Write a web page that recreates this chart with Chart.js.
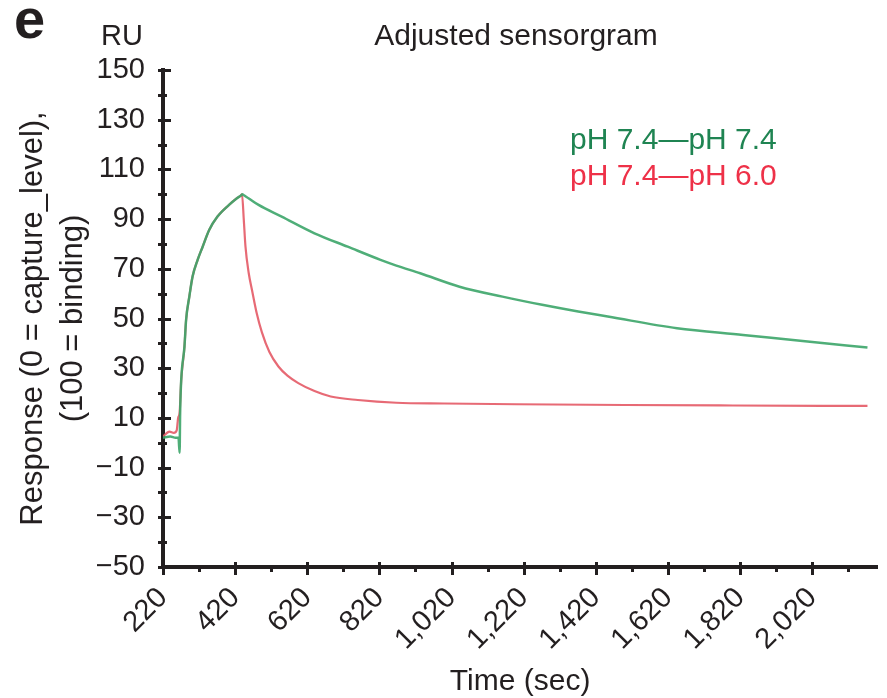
<!DOCTYPE html>
<html>
<head>
<meta charset="utf-8">
<script src="https://cdn.jsdelivr.net/npm/chart.js@4.4.1/dist/chart.umd.min.js"></script>
<style>
html,body{margin:0;padding:0;background:#fff;}
#wrap{width:887px;height:698px;position:relative;}
canvas{display:block;}
</style>
</head>
<body>
<div id="wrap"><canvas id="c" width="887" height="698"></canvas></div>
<script>
// ---------- text ----------
const panelLetter = 'e';
const unitLabel = 'RU';
const chartTitle = 'Adjusted sensorgram';
const xAxisTitle = 'Time (sec)';
const yAxisTitle = ['Response (0 = capture_level),', '(100 = binding)'];
const seriesNames = ['pH 7.4\u2014pH 7.4', 'pH 7.4\u2014pH 6.0'];

// ---------- ticks ----------
const xTickValues = [220, 320, 420, 520, 620, 720, 820, 920, 1020, 1120, 1220, 1320, 1420, 1520, 1620, 1720, 1820, 1920, 2020, 2120];
const xLabeledTicks = [220, 420, 620, 820, 1020, 1220, 1420, 1620, 1820, 2020];
const xTickLabels = ['220', '420', '620', '820', '1,020', '1,220', '1,420', '1,620', '1,820', '2,020'];
const yLabeledTicks = [150, 130, 110, 90, 70, 50, 30, 10, -10, -30, -50];
const yTickLabels = ['150', '130', '110', '90', '70', '50', '30', '10', '\u221210', '\u221230', '\u221250'];

// ---------- data ----------
const greenTime = [220, 240, 255, 263, 266, 267.5, 270.4, 279.5, 284, 293, 302, 316, 330, 348, 371, 403, 425, 437, 440, 443, 458, 485, 549, 640, 732, 823, 867, 933, 1042, 1161, 1271, 1371, 1453, 1645, 1828, 2000, 2173];
const greenValues = [2, 2.5, 2, 2, -4, 12, 25, 38.7, 49.4, 58.8, 66.9, 73.6, 78.9, 85.6, 91, 95.7, 98.4, 99.6, 100, 99.7, 98.3, 95.7, 91, 84.3, 78.9, 73.6, 71.3, 68.2, 62.8, 58.8, 55.5, 52.8, 50.8, 46.1, 43.4, 40.8, 38.3];
const redTime = [220, 238, 250, 258, 262, 266, 270.4, 279.5, 284, 293, 302, 316, 330, 348, 371, 403, 425, 436, 439, 444, 448.6, 457.7, 466.7, 480, 494, 515, 540, 565, 595, 640, 685, 760, 867, 1000, 1200, 1500, 1800, 2173];
const redValues = [2.5, 4.5, 4, 5, 10, 12, 25, 38.7, 49.4, 58.8, 66.9, 73.6, 78.9, 85.6, 91, 95.7, 98.4, 99.5, 100, 89.7, 79, 68.2, 61.5, 52, 44.5, 36.5, 30.7, 27, 24, 20.8, 18.6, 17.2, 16.1, 15.8, 15.5, 15.2, 15, 14.8];

// ---------- styles ----------
const FONT = '"Liberation Sans", Arial, Helvetica, sans-serif';
const INK = '#231f20';
const greenLine = 'rgba(60,165,105,0.9)';
const redLine = 'rgba(228,90,102,0.9)';
const greenText = '#1f8452';
const redText = '#ee3148';

function toPoints(ts, vs) { return ts.map((t, i) => ({x: t, y: vs[i]})); }

const decorPlugin = {
  id: 'decor',
  afterDraw(chart) {
    const ctx = chart.ctx;
    const xs = chart.scales.x, ys = chart.scales.y;
    const ca = chart.chartArea;
    const ax = ca.left, ay = ca.bottom;
    ctx.save();
    // tick marks crossing the axes
    ctx.strokeStyle = INK;
    ctx.lineWidth = 3;
    ctx.lineCap = 'butt';
    ys.ticks.forEach(t => {
      const py = Math.round(ys.getPixelForValue(t.value)) + 0.5;
      const major = yLabeledTicks.includes(t.value);
      ctx.beginPath();
      ctx.moveTo(ax - 5, py);
      ctx.lineTo(ax + (major ? 8 : 4), py);
      ctx.stroke();
    });
    xs.ticks.forEach(t => {
      const px = Math.round(xs.getPixelForValue(t.value)) + 0.5;
      const major = xLabeledTicks.includes(t.value);
      ctx.beginPath();
      if (major) { ctx.moveTo(px, ay - 5); ctx.lineTo(px, ay + 8); }
      else { ctx.moveTo(px, ay); ctx.lineTo(px, ay + 5); }
      ctx.stroke();
    });
    // texts
    ctx.fillStyle = INK;
    ctx.textBaseline = 'alphabetic';
    ctx.font = 'bold 56px ' + FONT;
    ctx.textAlign = 'left';
    ctx.fillText(panelLetter, 14, 38);
    ctx.font = '29px ' + FONT;
    ctx.textAlign = 'center';
    ctx.fillText(unitLabel, 122, 45);
    ctx.font = '30px ' + FONT;
    ctx.fillText(chartTitle, 516, 45);
    // legend (text only)
    ctx.textAlign = 'left';
    ctx.font = '30px ' + FONT;
    const ds = chart.data.datasets;
    ctx.fillStyle = greenText;
    ctx.fillText(ds[0].label, ax + 407, ca.top + 79);
    ctx.fillStyle = redText;
    ctx.fillText(ds[1].label, ax + 407, ca.top + 115);
    ctx.restore();
  }
};

new Chart(document.getElementById('c'), {
  type: 'line',
  data: {
    datasets: [
      {label: seriesNames[0], data: toPoints(greenTime, greenValues), borderColor: greenLine, borderWidth: 2.5, pointRadius: 0, cubicInterpolationMode: 'monotone', fill: false},
      {label: seriesNames[1], data: toPoints(redTime, redValues), borderColor: redLine, borderWidth: 2.2, pointRadius: 0, cubicInterpolationMode: 'monotone', fill: false}
    ]
  },
  options: {
    responsive: false,
    animation: false,
    devicePixelRatio: 1,
    layout: {padding: {top: 70, right: 1, left: 0, bottom: 0}},
    plugins: {legend: {display: false}, title: {display: false}, tooltip: {enabled: false}},
    scales: {
      x: {
        type: 'linear',
        min: 220,
        max: 2200,
        afterBuildTicks: (axis) => { axis.ticks = xTickValues.map(v => ({value: v})); },
        afterFit: (axis) => { axis.height = 131; },
        grid: {display: false, drawTicks: false},
        border: {display: true, color: INK, width: 4},
        ticks: {
          autoSkip: false,
          minRotation: 45,
          maxRotation: 45,
          padding: 14,
          color: INK,
          font: {family: FONT, size: 29},
          callback: (v) => { const i = xLabeledTicks.indexOf(v); return i >= 0 ? xTickLabels[i] : ''; }
        },
        title: {display: true, text: xAxisTitle, color: INK, font: {family: FONT, size: 30, lineHeight: 1}, padding: {top: 0, bottom: 1}}
      },
      y: {
        type: 'linear',
        min: -50,
        max: 150,
        afterFit: (axis) => { axis.width = 163; },
        grid: {display: false, drawTicks: false},
        border: {display: true, color: INK, width: 4},
        ticks: {
          stepSize: 10,
          autoSkip: false,
          padding: 18,
          color: INK,
          font: {family: FONT, size: 29},
          callback: (v) => { const i = yLabeledTicks.indexOf(v); return i >= 0 ? yTickLabels[i] : ''; }
        },
        title: {display: true, text: yAxisTitle, color: INK, font: {family: FONT, size: 31, lineHeight: 1.29}, padding: {top: 13, bottom: 0}}
      }
    }
  },
  plugins: [decorPlugin]
});
</script>
</body>
</html>
